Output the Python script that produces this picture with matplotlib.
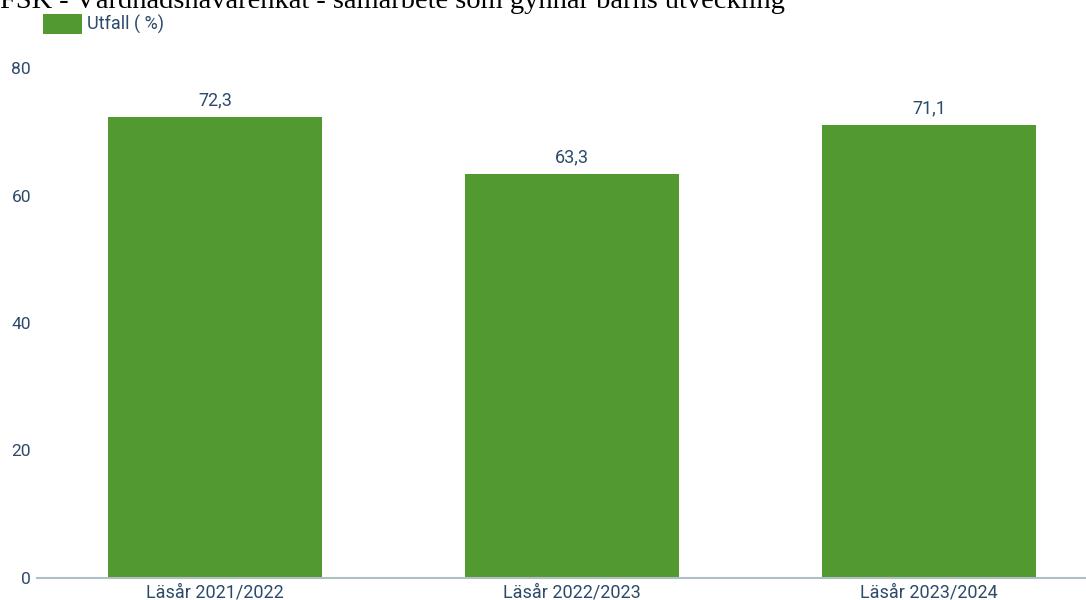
import matplotlib
matplotlib.use("Agg")
import matplotlib.pyplot as plt
from matplotlib.patches import Patch

categories = ["Läsår 2021/2022", "Läsår 2022/2023", "Läsår 2023/2024"]
values = [72.3, 63.3, 71.1]
y_ticks = [0, 20, 40, 60, 80]
title = "FSK - Vårdnadshavarenkät - samarbete som gynnar barns utveckling"
series_name = "Utfall ( %)"

bar_color = "#529a30"
text_color = "#2d4a6b"

plt.rcParams["font.family"] = ["Roboto", "DejaVu Sans"]

fig = plt.figure(figsize=(10.86, 6.0), dpi=100)
ax = fig.add_axes([36.5 / 1086, 22 / 600, 1071 / 1086, 510 / 600])

x = range(len(categories))
bars = ax.bar(x, values, width=0.6, color=bar_color)

for b, v in zip(bars, values):
    ax.text(b.get_x() + b.get_width() / 2, v + 1.2, f"{v:.1f}".replace(".", ","),
            ha="center", va="bottom", fontsize=13, color=text_color)

ax.set_xlim(-0.5, 2.5)
ax.set_ylim(0, 80)
ax.set_yticks(y_ticks)
ax.set_xticks(list(x))
ax.set_xticklabels(categories)
ax.tick_params(axis="both", length=0, labelsize=13, labelcolor=text_color)
ax.tick_params(axis="y", labelsize=12.5, pad=4)
ax.tick_params(axis="x", pad=4)

for s in ["top", "right", "left"]:
    ax.spines[s].set_visible(False)
ax.spines["bottom"].set_color("#b0bec5")
ax.spines["bottom"].set_linewidth(1.5)

fig.text(0.0, 1 - 8 / 600, title, family="Liberation Serif", fontsize=20.5,
         color="black", ha="left", va="baseline")

handle = Patch(facecolor=bar_color, edgecolor="none")
fig.legend([handle], [series_name], loc="upper left", bbox_to_anchor=(43 / 1086, 1 - 14 / 600),
           frameon=False, fontsize=13, labelcolor=text_color, handlelength=2.15,
           handleheight=1.35, handletextpad=0.3, borderpad=0, borderaxespad=0)

fig.savefig("out.png", dpi=100)
